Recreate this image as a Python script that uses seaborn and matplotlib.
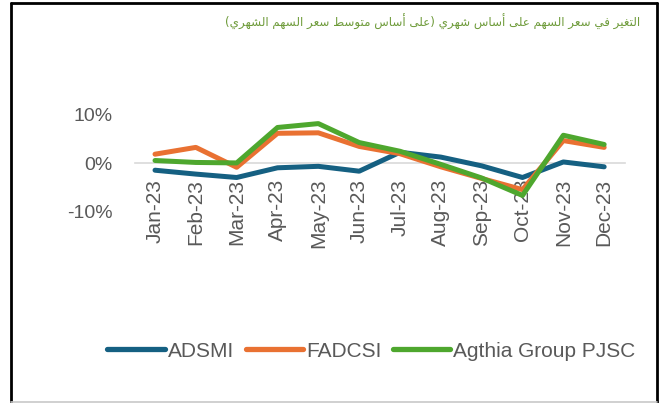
import pandas as pd
import seaborn as sns
import matplotlib.pyplot as plt
from matplotlib.ticker import PercentFormatter
from matplotlib.lines import Line2D

months = ['Jan-23', 'Feb-23', 'Mar-23', 'Apr-23', 'May-23', 'Jun-23',
          'Jul-23', 'Aug-23', 'Sep-23', 'Oct-23', 'Nov-23', 'Dec-23']
adsmi = [-1.4, -2.2, -2.9, -0.9, -0.6, -1.6, 2.3, 1.3, -0.5, -2.9, 0.3, -0.7]
fadcsi = [1.9, 3.3, -0.8, 6.2, 6.3, 3.5, 2.0, -0.7, -3.1, -5.4, 4.7, 3.3]
agthia = [0.6, 0.2, 0.1, 7.4, 8.2, 4.3, 2.5, -0.2, -3.0, -6.6, 5.8, 3.9]
series_names = ['ADSMI', 'FADCSI', 'Agthia Group PJSC']
title_text = 'التغير في سعر السهم على أساس شهري (على أساس متوسط سعر السهم الشهري)'

colors = {'ADSMI': '#156082', 'FADCSI': '#E97132', 'Agthia Group PJSC': '#4EA72E'}

# matplotlib does no arabic shaping, so pick presentation forms by hand
FORMS = {
    'ا': ('\uFE8D', '\uFE8E'), 'أ': ('\uFE83', '\uFE84'),
    'ر': ('\uFEAD', '\uFEAE'), 'و': ('\uFEED', '\uFEEE'),
    'ى': ('\uFEEF', '\uFEF0'),
    'ل': ('\uFEDD', '\uFEDE', '\uFEDF', '\uFEE0'),
    'ت': ('\uFE95', '\uFE96', '\uFE97', '\uFE98'),
    'غ': ('\uFECD', '\uFECE', '\uFECF', '\uFED0'),
    'ي': ('\uFEF1', '\uFEF2', '\uFEF3', '\uFEF4'),
    'ف': ('\uFED1', '\uFED2', '\uFED3', '\uFED4'),
    'س': ('\uFEB1', '\uFEB2', '\uFEB3', '\uFEB4'),
    'ع': ('\uFEC9', '\uFECA', '\uFECB', '\uFECC'),
    'ه': ('\uFEE9', '\uFEEA', '\uFEEB', '\uFEEC'),
    'م': ('\uFEE1', '\uFEE2', '\uFEE3', '\uFEE4'),
    'ش': ('\uFEB5', '\uFEB6', '\uFEB7', '\uFEB8'),
    'ط': ('\uFEC1', '\uFEC2', '\uFEC3', '\uFEC4'),
}


def shape_rtl(s):
    out = []
    for i, ch in enumerate(s):
        if ch not in FORMS:
            out.append(ch)
            continue
        prev = s[i - 1] if i > 0 else ''
        nxt = s[i + 1] if i + 1 < len(s) else ''
        before = prev in FORMS and len(FORMS[prev]) == 4
        after = len(FORMS[ch]) == 4 and nxt in FORMS
        f = FORMS[ch]
        if before and after:
            out.append(f[3])
        elif before:
            out.append(f[1])
        elif after:
            out.append(f[2])
        else:
            out.append(f[0])
    vis = ''.join(reversed(out))
    return vis.replace('(', '\0').replace(')', '(').replace('\0', ')')


df = pd.DataFrame({
    'Month': months * 3,
    'Change': [v / 100 for v in adsmi + fadcsi + agthia],
    'Series': [n for n in series_names for _ in months],
})

sns.set_theme(style='white')
plt.rcParams['font.family'] = ['Liberation Sans', 'DejaVu Sans']
plt.rcParams['axes.unicode_minus'] = False

fig = plt.figure(figsize=(6.68, 4.03), dpi=100)
ax = fig.add_axes([0.2015, 0.474, 0.7335, 0.241])

sns.lineplot(data=df, x='Month', y='Change', hue='Series', hue_order=series_names,
             palette=colors, linewidth=3.6, sort=False, ax=ax, legend=False)
for ln in ax.get_lines():
    ln.set_solid_capstyle('round')
    ln.set_solid_joinstyle('round')

ax.set_xlim(-0.5, 11.5)
ax.set_ylim(-0.1, 0.1)
ax.set_yticks([-0.1, 0, 0.1])
ax.yaxis.set_major_formatter(PercentFormatter(1.0, decimals=0))
ax.set_xlabel('')
ax.set_ylabel('')
for s in ['top', 'right', 'left']:
    ax.spines[s].set_visible(False)
ax.spines['bottom'].set_position(('data', 0))
ax.spines['bottom'].set_color('#D9D9D9')
ax.spines['bottom'].set_linewidth(1.2)
ax.spines['bottom'].set_zorder(0)
ax.tick_params(axis='x', length=0, pad=11, labelsize=15, labelcolor='#595959', labelrotation=90)
ax.tick_params(axis='y', length=0, pad=16, labelsize=14, labelcolor='#595959')
ax.patch.set_alpha(0)

handles = [Line2D([], [], color=colors[n], linewidth=3.8, solid_capstyle='round') for n in series_names]
fig.legend(handles, series_names, loc='center', bbox_to_anchor=(0.556, 0.129), ncol=3,
           frameon=False, fontsize=15, handlelength=2.75, handletextpad=0.15,
           columnspacing=0.55, labelcolor='#595959')

fig.text(0.958, 0.945, shape_rtl(title_text), ha='right', va='center', fontsize=8.6,
         color='#6E9B3A', family=['DejaVu Sans'])

# chart frame
fig.add_artist(Line2D([11 / 668, 11 / 668], [0, 1 - 3 / 403], color='black', lw=2, transform=fig.transFigure))
fig.add_artist(Line2D([11 / 668, 657 / 668], [1 - 3 / 403, 1 - 3 / 403], color='black', lw=2, transform=fig.transFigure))
fig.add_artist(Line2D([657 / 668, 657 / 668], [0, 1 - 3 / 403], color='black', lw=2, transform=fig.transFigure))
fig.add_artist(Line2D([11 / 668, 657 / 668], [1 / 403, 1 / 403], color='#C8C8C8', lw=1.2, transform=fig.transFigure))

fig.savefig('out.png', dpi=100)
